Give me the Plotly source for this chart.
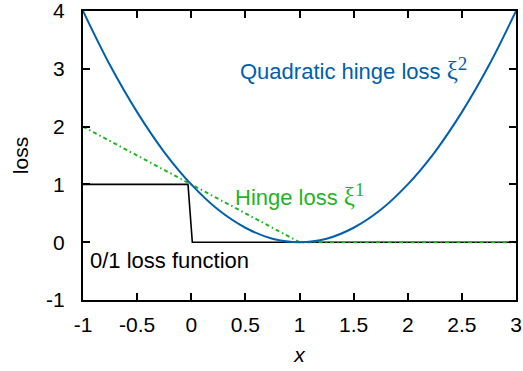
import plotly.graph_objects as go

# values
x_quad = [-1, -0.75, -0.5, -0.25, 0, 0.25, 0.5, 0.75, 1, 1.25, 1.5, 1.75, 2, 2.25, 2.5, 2.75, 3]
y_quad = [4, 3.06, 2.25, 1.56, 1, 0.56, 0.25, 0.06, 0, 0.06, 0.25, 0.56, 1, 1.56, 2.25, 3.06, 4]

x_hinge = [-1, 1, 3]
y_hinge = [2, 0, 0]

x_step = [-1, -0.03, 0.01, 3]
y_step = [1, 1, 0, 0]

x_ticks = [-1, -0.5, 0, 0.5, 1, 1.5, 2, 2.5, 3]
x_ticklabels = ["-1", "-0.5", "0", "0.5", "1", "1.5", "2", "2.5", "3"]
y_ticks = [-1, 0, 1, 2, 3, 4]
y_ticklabels = ["-1", "0", "1", "2", "3", "4"]

BLUE = "#0060ad"
GREEN = "#1fb51f"
XI = '<span style="font-family:Liberation Serif;font-size:25px">ξ</span>'
SUP = '<sup><span style="font-family:Liberation Serif;font-size:19px">{}</span></sup>'

fig = go.Figure()
fig.add_trace(go.Scatter(x=x_step, y=y_step, mode="lines",
                         line=dict(color="black", width=1.6)))
fig.add_trace(go.Scatter(x=x_hinge, y=y_hinge, mode="lines",
                         line=dict(color=GREEN, width=2, dash="4px,3px,1.5px,3px")))
fig.add_trace(go.Scatter(x=x_quad, y=y_quad, mode="lines",
                         line=dict(color=BLUE, width=2, shape="spline")))

fig.add_annotation(x=0.43, y=3.0, xanchor="left", yanchor="middle", showarrow=False,
                   text="Quadratic hinge loss " + XI + SUP.format(2),
                   font=dict(color=BLUE, size=22))
fig.add_annotation(x=0.39, y=0.83, xanchor="left", yanchor="middle", showarrow=False,
                   text="Hinge loss " + XI + SUP.format(1),
                   font=dict(color=GREEN, size=22))
fig.add_annotation(x=-0.95, y=-0.31, xanchor="left", yanchor="middle", showarrow=False,
                   text="0/1 loss function", font=dict(color="black", size=22))

fig.update_layout(
    width=523,
    height=371,
    plot_bgcolor="white",
    paper_bgcolor="white",
    showlegend=False,
    font=dict(family="Liberation Sans, Arial", size=21, color="black"),
    margin=dict(l=83, r=7, t=11, b=71),
)
fig.update_xaxes(
    range=[-1, 3],
    tickvals=x_ticks,
    ticktext=x_ticklabels,
    ticks="inside",
    ticklen=7,
    tickwidth=1.5,
    tickcolor="black",
    showline=True,
    linecolor="black",
    linewidth=2,
    mirror="allticks",
    showgrid=False,
    zeroline=False,
    automargin=False,
    ticklabeloverflow="allow",
    ticklabelstandoff=5,
    title=dict(text="<i>x</i>", standoff=12, font=dict(size=21)),
)
fig.update_yaxes(
    range=[-1, 4],
    tickvals=y_ticks,
    ticktext=y_ticklabels,
    ticks="inside",
    ticklen=7,
    tickwidth=1.5,
    tickcolor="black",
    showline=True,
    linecolor="black",
    linewidth=2,
    mirror="allticks",
    showgrid=False,
    zeroline=False,
    automargin=False,
    ticklabeloverflow="allow",
    ticklabelstandoff=12,
    title=dict(text="loss", standoff=12, font=dict(size=21)),
)

# the page body has a default 8px margin; drop it so the figure sits at the corner
fig.write_html("out.html", config={"displayModeBar": False},
               post_script="document.body.style.margin = '0';")
